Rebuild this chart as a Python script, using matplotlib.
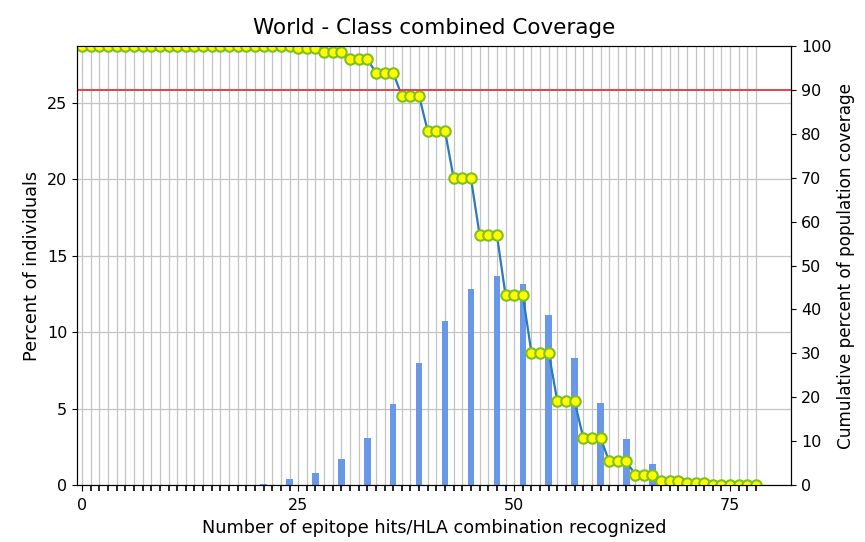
import numpy as np
import matplotlib
matplotlib.use("Agg")
import matplotlib.pyplot as plt

# hits (0..78) and percent of individuals with exactly that many hits
hits = np.arange(0, 79)
bar_pos = [21, 24, 27, 30, 33, 36, 39, 42, 45, 48, 51, 54, 57, 60, 63, 66, 69, 72, 75, 78]
bar_val = [0.07, 0.4, 0.8, 1.7, 3.1, 5.3, 8.0, 10.75, 12.85, 13.7,
           13.15, 11.1, 8.3, 5.4, 3.0, 1.4, 0.6, 0.25, 0.1, 0.03]

pct = np.zeros(len(hits))
for p, v in zip(bar_pos, bar_val):
    pct[p] = v

# cumulative coverage: percent of individuals recognizing >= x hits
cum = np.cumsum(pct[::-1])[::-1]
cum = cum / cum[0] * 100

fig = plt.figure(figsize=(8.65, 5.42), dpi=100)
ax = fig.add_axes([0.089, 0.105, 0.826, 0.810])

ax.bar(hits, pct, width=0.75, color="#6a98e8", zorder=2)
ax.set_xticks(hits, minor=True)
ax.set_xticks([0, 25, 50, 75])
ax.grid(True, which="both", axis="x", color="#c4c4c4", lw=0.9)
ax.grid(True, which="major", axis="y", color="#c4c4c4", lw=0.9)
ax.set_axisbelow(True)
ax.set_xlim(-0.6, 82.1)
ax.set_ylim(0, 28.73)
ax.set_yticks([0, 5, 10, 15, 20, 25])
ax.tick_params(labelsize=11.5)
ax.tick_params(axis="x", which="major", length=4.5, pad=5)
ax.tick_params(which="minor", length=4.5, width=1.2)
ax.set_xlabel("Number of epitope hits/HLA combination recognized", fontsize=12.7)
ax.set_ylabel("Percent of individuals", fontsize=12.7)
ax.set_title("World - Class combined Coverage", fontsize=15.5, pad=9)

ax2 = ax.twinx()
ax2.plot(hits, cum, color="#2a7ab8", lw=1.6, marker="o", markersize=7.5,
         markerfacecolor="#ffff00", markeredgecolor="#7fbf1f", markeredgewidth=1.5)
ax2.axhline(90, color="#e8303a", lw=1.3)
ax2.set_ylim(0, 100)
ax2.set_yticks(range(0, 101, 10))
ax2.tick_params(labelsize=11.5)
ax2.set_ylabel("Cumulative percent of population coverage", fontsize=12.2)

plt.savefig("out.png", dpi=100)
